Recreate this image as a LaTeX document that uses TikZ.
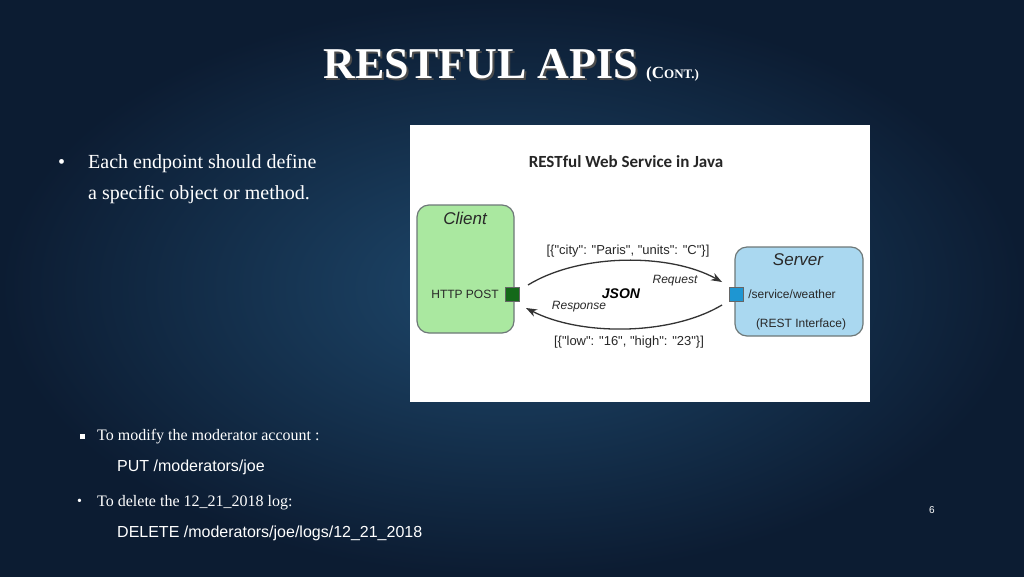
\documentclass[tikz,border=0pt]{standalone}
\usepackage{fontspec}
\setmainfont{Liberation Serif}
\newfontfamily\arial{Liberation Sans}
\newfontfamily\calib{Carlito}
\usetikzlibrary{arrows.meta}
\definecolor{bgin}{RGB}{30,72,108}
\definecolor{bgout}{RGB}{12,28,50}
\definecolor{cgreen}{RGB}{170,232,160}
\definecolor{dgreen}{RGB}{20,105,25}
\definecolor{sblue}{RGB}{170,216,240}
\definecolor{dblue}{RGB}{30,150,210}
\definecolor{tgray}{RGB}{40,40,40}
\tikzset{
  slidetxt/.style={text=white, anchor=west, inner sep=0pt},
  dtxt/.style={font=\arial\fontsize{12}{14}\selectfont, text=tgray, inner sep=0pt},
  ibox/.style={draw={rgb,255:red,110;green,120;blue,120}, line width=1.2pt, rounded corners=12pt},
  port/.style={draw=black!60, line width=0.6pt, minimum size=14pt, inner sep=0pt},
  flow/.style={line width=1.3pt, black!80, -{Stealth[length=11pt,width=8pt]}}
}
\begin{document}
\begin{tikzpicture}[x=1pt,y=-1pt]
\useasboundingbox (0,0) rectangle (1024,576);
\shade[inner color=bgin, outer color=bgout] (0,0) rectangle (1024,576);
% title
\node[text=black!70, font=\bfseries\fontsize{44}{48}\selectfont, anchor=base east, inner sep=0pt] at (640,80) {RESTFUL APIS};
\node (title) [text=white, font=\bfseries\fontsize{44}{48}\selectfont, anchor=base east, inner sep=0pt] at (638,78) {RESTFUL APIS};
\node (cont) [text=white, font=\bfseries\fontsize{17}{20}\selectfont, anchor=base west, inner sep=0pt] at (646,78) {(C\fontsize{13}{16}\selectfont ONT.)};
% bullets
\node (b1) [slidetxt, font=\fontsize{20}{24}\selectfont] at (58,164) {•};
\node (l1) [slidetxt, font=\fontsize{20}{24}\selectfont] at (88,164) {Each endpoint should define};
\node (l2) [slidetxt, font=\fontsize{20}{24}\selectfont] at (88,195) {a specific object or method.};
\node (b2) [fill=white, minimum size=5pt, inner sep=0pt] at (82,436) {};
\node (l3) [slidetxt, font=\fontsize{16}{19}\selectfont] at (97,437) {To modify the moderator account :};
\node (l4) [slidetxt, font=\arial\fontsize{16}{19}\selectfont] at (117,467) {PUT /moderators/joe};
\node (b3) [slidetxt, font=\fontsize{14}{16}\selectfont] at (77,502) {•};
\node (l5) [slidetxt, font=\fontsize{16}{19}\selectfont] at (97,503) {To delete the 12\_21\_2018 log:};
\node (l6) [slidetxt, font=\arial\fontsize{16}{19}\selectfont] at (117,533) {DELETE /moderators/joe/logs/12\_21\_2018};
\node (pg) [text=white, font=\arial\fontsize{10}{12}\selectfont, inner sep=0pt] at (932,510) {6};
% image
\fill[white] (410,125) rectangle (870,402);
\node (dt) [font=\calib\bfseries\fontsize{17}{20}\selectfont, text=black!85, inner sep=0pt] at (626,162) {RESTful Web Service in Java};
\draw[ibox, fill=cgreen] (417,205) rectangle (514,333);
\draw[ibox, fill=sblue] (735,247) rectangle (863,336);
\node (client) [dtxt, font=\arial\itshape\fontsize{17}{20}\selectfont] at (465,218) {Client};
\node (http) [dtxt] at (465,294) {HTTP POST};
\node (server) [dtxt, font=\arial\itshape\fontsize{17}{20}\selectfont] at (798,260) {Server};
\node (svc) [dtxt] at (792,294) {/service/weather};
\node (rest) [dtxt] at (801,324) {(REST Interface)};
\node (cp) [port, fill=dgreen] at (512,294) {};
\node (sp) [port, fill=dblue] at (736,294) {};
\coordinate (rqs) at (528,285);
\coordinate (rqe) at (722,282);
\coordinate (rss) at (722,305);
\coordinate (rse) at (526,308);
\draw[flow] (rqs) .. controls (580,253) and (670,253) .. (rqe);
\draw[flow] (rss) .. controls (670,336) and (580,336) .. (rse);
\node (req) [dtxt, font=\arial\fontsize{13}{15}\selectfont] at (628,251) {[\{"city": "Paris", "units": "C"\}]};
\node (resp) [dtxt, font=\arial\fontsize{13}{15}\selectfont] at (629,342) {[\{"low": "16", "high": "23"\}]};
\node (rql) [dtxt, font=\arial\itshape\fontsize{12}{14}\selectfont] at (675,281) {Request};
\node (rsl) [dtxt, font=\arial\itshape\fontsize{12}{14}\selectfont] at (579,307) {Response};
\node (json) [dtxt, font=\arial\bfseries\itshape\fontsize{14}{16}\selectfont, text=black] at (621,294) {JSON};
\end{tikzpicture}
\end{document}
